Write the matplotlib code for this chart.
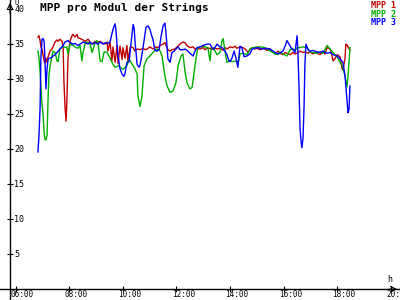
import matplotlib
matplotlib.use("Agg")
import matplotlib.pyplot as plt

# MPP voltage per module, time in decimal hours
mpp1_t = [6.83, 6.87, 6.91, 6.94, 6.98, 7.02, 7.06, 7.09, 7.13, 7.17, 7.21, 7.28, 7.35, 7.39, 7.47,
          7.54, 7.58, 7.65, 7.73, 7.77, 7.80, 7.84, 7.88, 7.91, 7.95, 8.03, 8.10, 8.14, 8.21, 8.29,
          8.32, 8.40, 8.51, 8.59, 8.70, 8.77, 8.85, 8.96, 9.03, 9.15, 9.26, 9.33, 9.41, 9.44, 9.52,
          9.59, 9.63, 9.71, 9.78, 9.82, 9.89, 9.97, 10.00, 10.08, 10.15, 10.19, 10.27, 10.38, 10.45,
          10.53, 10.64, 10.75, 10.82, 10.90, 11.01, 11.12, 11.20, 11.31, 11.38, 11.50, 11.57, 11.65,
          11.68, 11.76, 11.83, 11.94, 12.02, 12.13, 12.24, 12.32, 12.39, 12.50, 12.62, 12.69, 12.77,
          12.88, 12.99, 13.06, 13.14, 13.25, 13.36, 13.44, 13.51, 13.62, 13.74, 13.81, 13.88, 14.00,
          14.11, 14.18, 14.26, 14.37, 14.48, 14.56, 14.63, 14.67, 14.74, 14.85, 14.93, 15.00, 15.12,
          15.23, 15.30, 15.38, 15.49, 15.60, 15.68, 15.79, 15.86, 15.97, 16.05, 16.12, 16.24, 16.35,
          16.42, 16.50, 16.61, 16.72, 16.79, 16.91, 16.98, 17.09, 17.17, 17.24, 17.35, 17.47, 17.54,
          17.62, 17.73, 17.80, 17.84, 17.91, 17.99, 18.10, 18.18, 18.21, 18.29, 18.32, 18.36, 18.44,
          18.47]
mpp1_v = [36.0, 36.2, 35.5, 34.6, 34.3, 33.5, 32.6, 32.3, 33.0, 32.4, 33.2, 34.0, 34.3, 34.6, 35.3,
          35.6, 35.4, 35.7, 35.4, 34.5, 29.7, 26.0, 24.0, 27.0, 33.0, 35.5, 36.2, 36.4, 36.0, 36.4,
          35.9, 35.8, 35.6, 35.4, 35.7, 35.3, 35.0, 35.4, 35.2, 35.4, 35.1, 35.0, 35.3, 34.0, 35.3,
          32.6, 34.6, 32.4, 34.8, 32.2, 34.7, 32.8, 34.5, 33.0, 34.8, 32.5, 34.6, 34.5, 34.0,
          34.3, 34.2, 34.4, 34.2, 34.3, 34.6, 34.3, 34.6, 34.5, 34.8, 35.0, 35.2, 34.5,
          34.2, 34.0, 34.2, 34.3, 34.6, 35.0, 35.3, 35.2, 34.8, 34.5, 34.6, 34.3, 34.4,
          34.3, 34.5, 34.2, 34.4, 34.4, 34.2, 34.4, 34.3, 34.4, 34.1, 34.5, 34.3, 34.6,
          34.5, 34.7, 34.4, 34.6, 34.5, 34.3, 34.0, 33.7, 34.3, 34.5, 34.3, 34.4, 34.2,
          34.4, 34.3, 34.1, 34.3, 33.9, 33.6, 34.0, 33.7, 33.5, 33.8, 33.7, 33.5, 33.8,
          33.6, 33.7, 34.0, 33.8, 33.9, 33.7, 33.9, 33.6, 33.8, 33.7, 33.5, 33.9, 33.6,
          34.5, 34.3, 33.5, 32.6, 32.9, 33.5, 33.2, 31.5, 31.3, 33.0, 35.0, 34.9, 34.3,
          34.2]

mpp2_t = [6.83, 6.87, 6.91, 6.94, 6.98, 7.02, 7.06, 7.09, 7.13, 7.17, 7.21, 7.24, 7.28, 7.35, 7.39,
          7.47, 7.54, 7.58, 7.65, 7.77, 7.84, 7.91, 7.95, 8.03, 8.14, 8.21, 8.32, 8.40, 8.47, 8.51,
          8.59, 8.66, 8.77, 8.85, 8.96, 9.03, 9.07, 9.15, 9.22, 9.30, 9.41, 9.52, 9.63, 9.71, 9.82,
          9.89, 10.00, 10.15, 10.23, 10.30, 10.45, 10.53, 10.56, 10.64, 10.71, 10.79, 10.90, 11.01,
          11.12, 11.27, 11.38, 11.46, 11.57, 11.65, 11.76, 11.87, 11.98, 12.06, 12.17, 12.24, 12.32,
          12.39, 12.50, 12.58, 12.66, 12.73, 12.80, 12.88, 12.99, 13.06, 13.17, 13.25, 13.29, 13.36,
          13.44, 13.51, 13.62, 13.70, 13.74, 13.81, 13.88, 14.00, 14.11, 14.26, 14.29, 14.37, 14.48,
          14.63, 14.74, 14.85, 15.00, 15.12, 15.30, 15.38, 15.49, 15.60, 15.68, 15.79, 15.86, 15.97,
          16.12, 16.24, 16.35, 16.42, 16.50, 16.61, 16.72, 16.87, 16.98, 17.09, 17.24, 17.35, 17.47,
          17.62, 17.73, 17.84, 17.99, 18.10, 18.18, 18.21, 18.29, 18.36, 18.40, 18.44, 18.47]
mpp2_v = [34.0, 33.0, 31.0, 29.0, 26.5, 25.0, 22.5, 21.4, 21.3, 22.0, 27.5, 30.5, 31.8, 33.2, 34.0,
          33.8, 32.6, 32.5, 34.3, 34.7, 34.5, 34.6, 33.6, 35.0, 34.8, 34.6, 34.4, 34.8, 32.6, 33.8,
          35.0, 35.3, 35.1, 33.8, 35.2, 35.5, 35.3, 32.6, 32.5, 33.9, 33.8, 33.0, 32.1, 31.7, 31.9,
          31.7, 31.4, 31.9, 32.9, 32.4, 31.5, 30.7, 27.6, 26.1, 27.5, 31.9, 32.9, 33.3,
          33.8, 34.3, 34.1, 33.3, 30.4, 29.0, 28.1, 28.3, 29.5, 31.9, 33.3, 33.6, 31.0,
          29.5, 28.6, 28.8, 31.0, 33.0, 34.5, 34.6, 34.7, 34.6, 34.5, 32.6, 34.2, 34.5,
          34.0, 33.5, 33.8, 35.5, 35.8, 34.0, 32.4, 32.6, 32.5, 32.6, 32.1, 33.6, 33.7,
          33.5, 34.3, 34.5, 34.6, 34.6, 34.5, 34.3, 34.0, 33.8, 33.6, 33.5, 33.9, 33.6,
          33.3, 34.2, 34.3, 34.1, 34.5, 34.5, 34.6, 34.5, 33.9, 33.8, 33.7, 33.9, 33.7,
          34.8, 34.3, 33.8, 33.2, 32.4, 32.0, 31.6, 30.4, 28.9, 30.5, 32.5, 34.5]

mpp3_t = [6.83, 6.87, 6.91, 6.94, 6.98, 7.02, 7.06, 7.09, 7.13, 7.17, 7.21, 7.28, 7.35, 7.39, 7.47,
          7.54, 7.65, 7.77, 7.84, 7.95, 8.03, 8.14, 8.21, 8.32, 8.40, 8.51, 8.59, 8.70, 8.77, 8.85,
          8.96, 9.07, 9.15, 9.26, 9.33, 9.44, 9.52, 9.59, 9.67, 9.71, 9.74, 9.78, 9.82, 9.89, 9.97,
          10.04, 10.08, 10.15, 10.23, 10.30, 10.38, 10.42, 10.45, 10.53, 10.60, 10.64, 10.71, 10.79,
          10.86, 10.94, 11.01, 11.09, 11.12, 11.20, 11.27, 11.35, 11.42, 11.50, 11.57, 11.61, 11.65,
          11.68, 11.76, 11.83, 11.91, 11.98, 12.06, 12.13, 12.24, 12.32, 12.39, 12.50, 12.62, 12.69,
          12.77, 12.88, 12.99, 13.14, 13.25, 13.32, 13.40, 13.51, 13.62, 13.74, 13.81, 13.88, 13.96,
          14.00, 14.07, 14.15, 14.22, 14.29, 14.37, 14.44, 14.52, 14.63, 14.74, 14.82, 14.93, 15.04,
          15.19, 15.34, 15.49, 15.60, 15.68, 15.79, 15.86, 15.97, 16.05, 16.12, 16.20, 16.27, 16.35,
          16.42, 16.50, 16.53, 16.57, 16.61, 16.65, 16.68, 16.72, 16.76, 16.79, 16.83, 16.91, 16.98,
          17.09, 17.24, 17.35, 17.47, 17.62, 17.73, 17.84, 17.99, 18.10, 18.21, 18.29, 18.32, 18.36,
          18.40, 18.44, 18.47]
mpp3_v = [19.6, 22.0, 26.0, 33.0, 35.7, 35.8, 35.4, 33.0, 28.6, 31.5, 32.9, 33.0, 33.1, 33.3, 33.5,
          33.8, 34.3, 34.8, 35.3, 35.5, 35.2, 35.0, 35.1, 34.8, 35.0, 35.3, 35.2, 35.0, 35.3, 35.0,
          35.2, 35.0, 35.3, 35.0, 35.2, 35.1, 35.3, 36.5, 37.6, 37.9, 37.0, 35.0, 33.3, 31.5, 30.7,
          30.4, 30.8, 32.4, 32.5, 35.0, 37.8, 37.3, 35.5, 32.1, 31.7, 32.0, 33.5, 35.5,
          37.4, 37.6, 37.1, 36.0, 35.7, 34.1, 34.0, 34.2, 36.0, 37.6, 38.0, 36.5, 34.5,
          32.9, 32.4, 33.8, 34.0, 34.3, 34.6, 34.2, 34.2, 34.3, 34.1, 33.7, 33.3, 34.0,
          34.5, 34.6, 34.8, 35.0, 35.0, 34.5, 34.3, 35.0, 34.6, 34.4, 34.0, 33.5, 32.6,
          32.5, 33.0, 34.0, 33.0, 31.7, 34.7, 34.5, 33.2, 33.3, 33.6, 34.3, 34.4, 34.5,
          34.3, 34.4, 34.3, 34.0, 33.8, 33.6, 33.7, 34.0, 34.7, 35.5, 35.0, 34.5, 34.2,
          33.8, 36.2, 34.0, 29.0, 23.0, 21.0, 20.2, 21.5, 26.0, 31.9, 35.0, 34.2, 34.0,
          34.1, 33.9, 33.8, 34.0, 33.7, 33.8, 33.5, 33.3, 32.9, 32.4, 30.4, 29.0, 27.0,
          25.2, 25.7, 29.0]

series_names = ["MPP 1", "MPP 2", "MPP 3"]
series_colors = ["#c00000", "#00b000", "#0000ff"]
y_ticks = [5, 10, 15, 20, 25, 30, 35, 40]
x_ticks = [6, 8, 10, 12, 14, 16, 18, 20]
x_labels = ["06:00", "08:00", "10:00", "12:00", "14:00", "16:00", "18:00", "20:00"]

mono = "DejaVu Sans Mono"
y_axis_pos = 5.787

fig = plt.figure(figsize=(4, 3), dpi=100)
ax = fig.add_axes([0, 0, 1, 1])
ax.set_xlim(5.414, 20.34)
ax.set_ylim(-1.55, 41.3)

for t, v, c in zip([mpp1_t, mpp2_t, mpp3_t], [mpp1_v, mpp2_v, mpp3_v], series_colors):
    ax.plot(t, v, color=c, lw=1.0)

# axes through the origin
for side in ["top", "right"]:
    ax.spines[side].set_visible(False)
ax.spines["left"].set_position(("data", y_axis_pos))
ax.spines["bottom"].set_position(("data", 0))
ax.spines["left"].set_linewidth(1.0)
ax.spines["bottom"].set_linewidth(1.0)
ax.set_xticks(x_ticks)
ax.set_yticks(y_ticks)
ax.tick_params(direction="inout", length=4.5, width=0.8, labelleft=False, labelbottom=False)

for v in y_ticks:
    ax.annotate(str(v), xy=(y_axis_pos, v), xytext=(3, 0), textcoords="offset points",
                va="center", ha="left", fontsize=6, family=mono)
for h, lab in zip(x_ticks, x_labels):
    ax.annotate(lab, xy=(h, 0), xytext=(-3.5, -0.8), textcoords="offset points",
                va="top", ha="left", fontsize=5.5, family=mono)

# arrow heads and unit labels
ax.annotate("", xy=(y_axis_pos, 41.3), xytext=(y_axis_pos, 39),
            arrowprops=dict(arrowstyle="->", lw=0.8, color="black"))
ax.annotate("", xy=(20.34, 0), xytext=(19.8, 0),
            arrowprops=dict(arrowstyle="->", lw=0.8, color="black"))
ax.annotate("U", xy=(y_axis_pos, 41.3), xytext=(3.5, -0.2), textcoords="offset points",
            va="top", ha="left", fontsize=5, family=mono)
ax.annotate("h", xy=(20.34, 0), xytext=(-9, 4), textcoords="offset points",
            va="bottom", ha="left", fontsize=6, family=mono)

fig.text(0.1, 0.99, "MPP pro Modul der Strings", ha="left", va="top",
         fontsize=8, fontweight="bold", family=mono)
for i, (name, c) in enumerate(zip(series_names, series_colors)):
    fig.text(0.99, 0.995 - i * 0.028, name, ha="right", va="top", fontsize=6,
             family=mono, color=c, fontweight="bold")

fig.savefig("out.png", dpi=100)
